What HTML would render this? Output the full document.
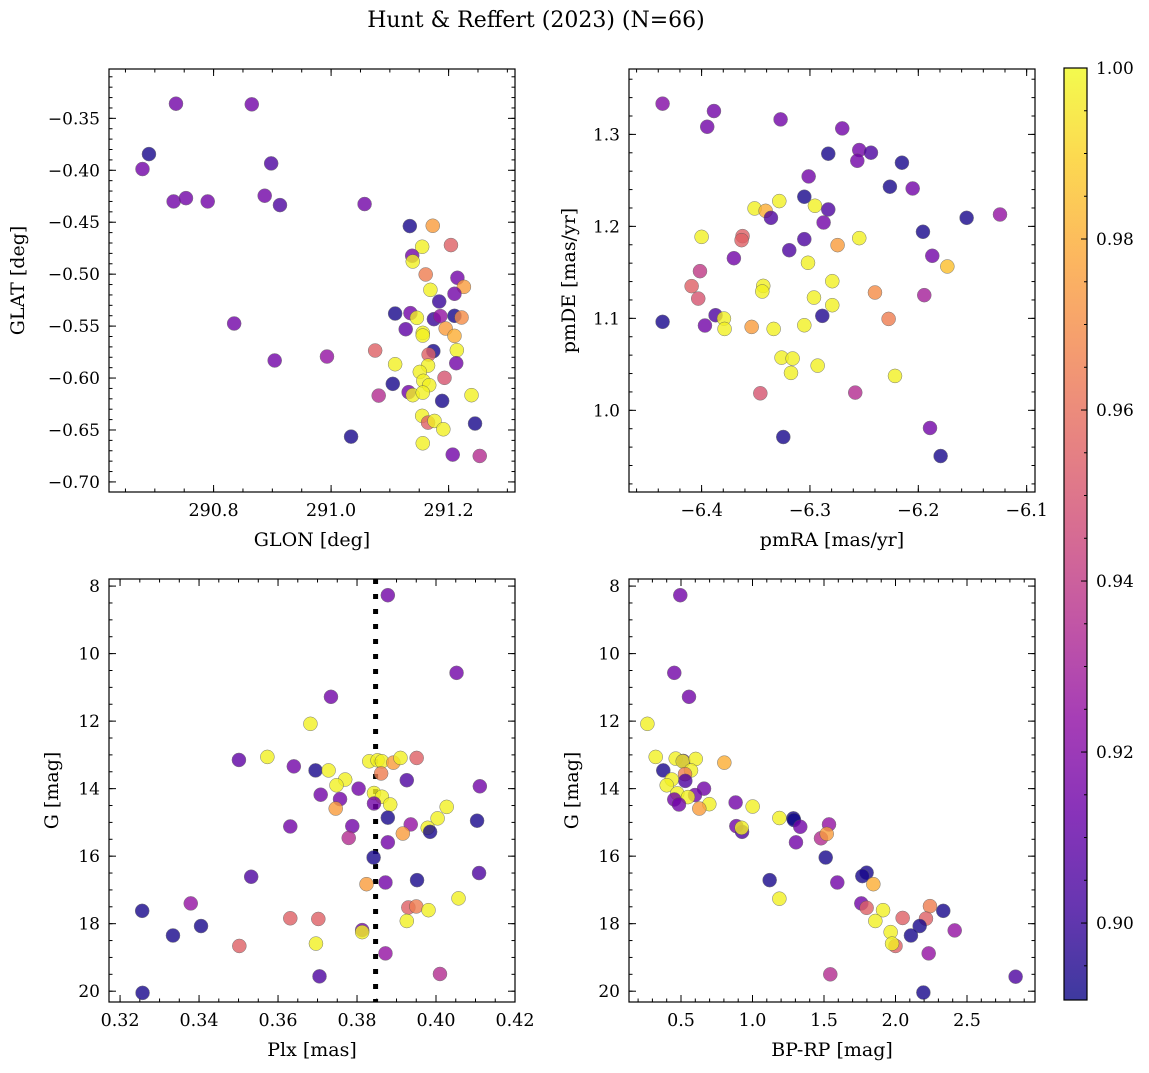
<!DOCTYPE html>
<html><head><meta charset="utf-8"><style>
html,body{margin:0;padding:0;background:#fff;}
svg text{font-family:"DejaVu Serif","Liberation Serif",serif;fill:#000;}
</style></head><body>
<svg id="fig" width="1149" height="1068" viewBox="0 0 1149 1068" xmlns="http://www.w3.org/2000/svg">
<text x="536" y="27" font-size="22" text-anchor="middle">Hunt &amp; Reffert (2023) (N=66)</text>
</svg>
<script>
// Panel 1: GLON vs GLAT
const p1Glon=[290.736,290.865,290.690,290.679,290.898,290.732,290.753,290.790,290.887,290.913,291.057,290.835,290.904,290.993,291.034,291.134,291.173,291.155,291.204,291.138,291.139,291.161,291.215,291.226,291.169,291.210,291.184,291.109,291.135,291.146,291.175,291.186,291.210,291.222,291.127,291.195,291.156,291.156,291.210,291.075,291.174,291.166,291.214,291.213,291.109,291.165,291.151,291.193,291.157,291.167,291.105,291.132,291.139,291.156,291.081,291.189,291.239,291.155,291.165,291.176,291.191,291.245,291.156,291.207,291.253];
const p1Glat=[-0.3359,-0.3365,-0.3844,-0.3988,-0.3934,-0.430,-0.4268,-0.430,-0.4245,-0.4335,-0.4325,-0.5475,-0.5831,-0.5793,-0.6564,-0.4537,-0.4534,-0.4736,-0.4720,-0.4823,-0.4878,-0.5003,-0.5035,-0.5122,-0.5151,-0.5189,-0.5263,-0.5379,-0.5375,-0.5420,-0.5433,-0.5404,-0.5401,-0.5417,-0.5530,-0.5523,-0.5565,-0.5591,-0.5594,-0.5735,-0.5741,-0.5774,-0.5732,-0.5857,-0.5867,-0.5880,-0.5941,-0.5998,-0.6027,-0.6069,-0.6056,-0.6136,-0.6165,-0.6140,-0.6169,-0.6220,-0.6165,-0.6364,-0.6429,-0.6413,-0.6493,-0.6438,-0.6628,-0.6737,-0.6750];
const p1Prob=[0.915,0.915,0.893,0.915,0.905,0.915,0.915,0.915,0.915,0.905,0.915,0.915,0.915,0.925,0.893,0.893,0.975,0.998,0.955,0.915,0.998,0.965,0.915,0.975,0.998,0.915,0.900,0.893,0.915,0.998,0.900,0.925,0.893,0.970,0.910,0.975,0.998,0.998,0.980,0.955,0.893,0.955,0.998,0.915,0.998,0.998,0.998,0.950,0.998,0.998,0.893,0.915,0.998,0.998,0.935,0.893,0.998,0.998,0.955,0.998,0.998,0.893,0.998,0.915,0.935];
// Panel 2: pmRA vs pmDE
const p2Pmra=[-6.436,-6.3886,-6.3948,-6.3271,-6.2702,-6.2831,-6.2545,-6.2437,-6.2563,-6.2151,-6.3012,-6.2262,-6.2052,-6.3052,-6.3283,-6.2954,-6.3511,-6.3409,-6.2831,-6.3360,-6.2874,-6.1554,-6.1246,-6.1957,-6.4000,-6.3622,-6.3631,-6.3052,-6.2545,-6.2745,-6.3191,-6.3702,-6.1871,-6.3018,-6.1732,-6.4015,-6.2794,-6.4092,-6.3431,-6.3440,-6.2400,-6.4031,-6.2963,-6.1945,-6.2794,-6.3871,-6.3794,-6.2886,-6.4360,-6.3969,-6.3788,-6.3538,-6.3335,-6.3052,-6.2274,-6.3262,-6.3160,-6.2929,-6.3175,-6.2215,-6.3458,-6.2582,-6.1892,-6.3246,-6.1794];
const p2Pmde=[1.3334,1.3254,1.3083,1.3163,1.3065,1.2790,1.2830,1.2801,1.2713,1.2692,1.2543,1.2431,1.2412,1.2322,1.2275,1.2224,1.2195,1.2169,1.2184,1.2093,1.2042,1.2093,1.2129,1.1941,1.1886,1.1894,1.1850,1.1861,1.1872,1.1796,1.1741,1.1654,1.1680,1.1604,1.1564,1.1513,1.1404,1.1350,1.1353,1.1292,1.1281,1.1215,1.1226,1.1252,1.1143,1.1034,1.0998,1.1027,1.0962,1.0922,1.0885,1.0907,1.0885,1.0925,1.0994,1.0573,1.0563,1.0486,1.0407,1.0374,1.0185,1.0193,0.9808,0.9710,0.9503];
const p2Prob=[0.92,0.915,0.915,0.915,0.915,0.893,0.915,0.905,0.915,0.893,0.915,0.893,0.915,0.893,0.998,0.998,0.998,0.980,0.905,0.905,0.915,0.893,0.925,0.893,0.998,0.955,0.955,0.905,0.998,0.975,0.905,0.915,0.915,0.998,0.985,0.94,0.998,0.955,0.998,0.998,0.97,0.95,0.998,0.93,0.998,0.905,0.998,0.895,0.893,0.915,0.998,0.975,0.998,0.998,0.965,0.998,0.998,0.998,0.998,0.998,0.95,0.935,0.915,0.893,0.893];
// Panel 3: Plx vs G
const p3Plx=[0.3878,0.4052,0.3734,0.3682,0.3501,0.3573,0.3640,0.3695,0.3728,0.3770,0.3748,0.3804,0.3708,0.3757,0.3746,0.3831,0.3852,0.3863,0.3892,0.3910,0.3951,0.3861,0.3926,0.4111,0.3843,0.3863,0.3884,0.3843,0.3878,0.4027,0.4004,0.3979,0.3985,0.3936,0.3916,0.3878,0.4104,0.3631,0.3788,0.3779,0.3842,0.3532,0.4109,0.3824,0.3872,0.3952,0.4057,0.3930,0.3950,0.3981,0.3926,0.3379,0.3256,0.3631,0.3702,0.3405,0.3334,0.3813,0.3813,0.3502,0.3696,0.3872,0.4010,0.3705,0.3257];
const p3G=[8.27,10.57,11.28,12.08,13.15,13.06,13.34,13.46,13.46,13.73,13.90,14.00,14.18,14.31,14.59,13.19,13.16,13.19,13.23,13.09,13.09,13.55,13.75,13.93,14.13,14.24,14.47,14.44,14.86,14.54,14.88,15.16,15.28,15.06,15.33,15.59,14.95,15.12,15.11,15.46,16.04,16.61,16.50,16.83,16.78,16.71,17.25,17.52,17.49,17.60,17.92,17.40,17.62,17.84,17.86,18.07,18.35,18.19,18.25,18.66,18.59,18.88,19.49,19.56,20.05];
const p3Prob=[0.915,0.915,0.915,0.998,0.91,0.998,0.915,0.893,0.998,0.998,0.998,0.915,0.915,0.915,0.975,0.998,0.998,0.998,0.975,0.998,0.955,0.965,0.905,0.915,0.998,0.998,0.998,0.915,0.893,0.998,0.998,0.998,0.893,0.925,0.975,0.915,0.893,0.915,0.915,0.935,0.893,0.905,0.905,0.975,0.915,0.893,0.998,0.955,0.965,0.998,0.998,0.925,0.893,0.955,0.955,0.893,0.893,0.915,0.998,0.955,0.998,0.925,0.935,0.905,0.893];
// Panel 4: BP-RP vs G
const p4Bprp=[0.495,0.453,0.556,0.265,0.323,0.463,0.516,0.512,0.603,0.803,0.376,0.570,0.528,0.530,0.435,0.400,0.661,0.598,0.474,0.549,0.453,0.486,0.698,0.628,0.882,1.001,0.887,0.927,0.924,1.188,1.286,1.290,1.334,1.304,1.535,1.479,1.519,1.512,1.120,1.188,1.593,1.798,1.768,1.845,1.761,1.798,1.913,1.859,2.050,2.241,2.213,2.334,2.169,2.108,1.966,2.414,2.000,1.976,2.232,1.544,2.840,2.195];
const p4G=[8.27,10.57,11.28,12.08,13.06,13.11,13.18,13.19,13.12,13.23,13.46,13.46,13.57,13.77,13.73,13.90,14.00,14.19,14.14,14.25,14.32,14.47,14.46,14.59,14.41,14.53,15.11,15.28,15.16,14.87,14.88,14.93,15.13,15.59,15.06,15.47,15.34,16.04,16.71,17.26,16.78,16.49,16.59,16.83,17.40,17.53,17.60,17.92,17.83,17.48,17.85,17.62,18.07,18.35,18.25,18.20,18.66,18.59,18.88,19.50,19.57,20.04];
const p4Prob=[0.915,0.915,0.915,0.998,0.998,0.998,0.905,0.998,0.998,0.98,0.893,0.998,0.965,0.905,0.998,0.998,0.915,0.915,0.998,0.998,0.915,0.915,0.998,0.975,0.915,0.998,0.915,0.905,0.998,0.998,0.893,0.89,0.915,0.915,0.925,0.935,0.975,0.893,0.893,0.998,0.915,0.893,0.893,0.98,0.915,0.955,0.998,0.998,0.955,0.965,0.955,0.893,0.893,0.893,0.998,0.925,0.955,0.998,0.925,0.935,0.905,0.893];
// Colorbar
const cbTicks=[0.90,0.92,0.94,0.96,0.98,1.00];
const cbMin=0.891, cbMax=1.0;

const NS="http://www.w3.org/2000/svg";
const fig=document.getElementById('fig');
function mk(tag,attrs,parent){const e=document.createElementNS(NS,tag);for(const k in attrs)e.setAttribute(k,attrs[k]);(parent||fig).appendChild(e);return e;}
const stops=[[13,8,135],[65,4,157],[106,0,168],[143,13,164],[177,42,144],[204,71,120],[225,100,98],[242,132,75],[252,166,54],[252,206,37],[240,249,33]];
function plasma(t){t=Math.max(0,Math.min(1,t));const s=t*10,i=Math.min(9,Math.floor(s)),f=s-i;const a=stops[i],b=stops[i+1];return `rgb(${Math.round(a[0]+(b[0]-a[0])*f)},${Math.round(a[1]+(b[1]-a[1])*f)},${Math.round(a[2]+(b[2]-a[2])*f)})`;}
function colorOf(p){return plasma((p-cbMin)/(cbMax-cbMin));}
function fmt(v,d){const s=Math.abs(v).toFixed(d);return (v<-1e-9?'\u2212':'')+s;}

function panel(cfg){
  const {name,x0,x1,y0,y1,xmin,xmax,ymin,ymax,invertY,xs,ys,ps,xMaj,xMin,yMaj,yMin,xd,yd,xlabel,ylabel,ylabX}=cfg;
  const g=mk('g',{});
  
  
  const sx=v=>x0+(v-xmin)/(xmax-xmin)*(x1-x0);
  const sy=v=>invertY? y0+(v-ymin)/(ymax-ymin)*(y1-y0) : y1-(v-ymin)/(ymax-ymin)*(y1-y0);
  const ticks=mk('g',{stroke:'#000','stroke-width':1},g);
  
  
  const eps=1e-9;
  function tickLoop(min,max,step,fn){const start=Math.ceil((min-eps)/step);for(let k=start;k*step<=max+eps;k++)fn(k*step);}
  tickLoop(xmin,xmax,xMin,v=>{const X=sx(v);mk('line',{x1:X,x2:X,y1:y1,y2:y1-3.5},ticks);mk('line',{x1:X,x2:X,y1:y0,y2:y0+3.5},ticks);});
  tickLoop(ymin,ymax,yMin,v=>{const Y=sy(v);mk('line',{x1:x0,x2:x0+3.5,y1:Y,y2:Y},ticks);mk('line',{x1:x1,x2:x1-3.5,y1:Y,y2:Y},ticks);});
  xMaj.forEach(v=>{const X=sx(v);mk('line',{x1:X,x2:X,y1:y1,y2:y1-7},ticks);mk('line',{x1:X,x2:X,y1:y0,y2:y0+7},ticks);
    const t=mk('text',{x:X,y:y1+24,'font-size':17.5,'text-anchor':'middle'},g);t.textContent=fmt(v,xd);
    
    });
  yMaj.forEach(v=>{const Y=sy(v);mk('line',{x1:x0,x2:x0+7,y1:Y,y2:Y},ticks);mk('line',{x1:x1,x2:x1-7,y1:Y,y2:Y},ticks);
    const t=mk('text',{x:x0-9,y:Y+6,'font-size':17,'text-anchor':'end'},g);t.textContent=fmt(v,yd);
    
    });
  if(cfg.vline!==undefined){const X=sx(cfg.vline);const l=mk('line',{x1:X,x2:X,y1:y0,y2:y1,stroke:'#000','stroke-width':5,'stroke-dasharray':'5 10'},g);
    
    }
  const pts=mk('g',{},g);
  
  
  for(let i=0;i<xs.length;i++){
    const c=mk('circle',{cx:sx(xs[i]),cy:sy(ys[i]),r:7,fill:colorOf(ps[i]),stroke:'#555','stroke-width':0.5,opacity:0.8},pts);
    
    
  }
  const box=mk('rect',{x:x0,y:y0,width:x1-x0,height:y1-y0,fill:'none',stroke:'#000','stroke-width':1.2},g);
  
  
  const xl=mk('text',{x:(x0+x1)/2,y:y1+54,'font-size':19,'text-anchor':'middle'},g);xl.textContent=xlabel;
  
  
  const yc=(y0+y1)/2;
  const yl=mk('text',{x:ylabX,y:yc,'font-size':19,'text-anchor':'middle',transform:`rotate(-90 ${ylabX} ${yc})`},g);yl.textContent=ylabel;
  
  
}

panel({name:'glon-glat-panel',x0:109,x1:515,y0:69,y1:492,xmin:290.622,xmax:291.313,ymin:-0.7097,ymax:-0.3025,invertY:false,
  xs:p1Glon,ys:p1Glat,ps:p1Prob,xMaj:[290.8,291.0,291.2],xMin:0.05,yMaj:[-0.35,-0.40,-0.45,-0.50,-0.55,-0.60,-0.65,-0.70],yMin:0.01,xd:1,yd:2,
  xlabel:'GLON [deg]',ylabel:'GLAT [deg]',ylabX:24});
panel({name:'pm-panel',x0:629,x1:1035,y0:69,y1:492,xmin:-6.467,xmax:-6.0923,ymin:0.9112,ymax:1.3711,invertY:false,
  xs:p2Pmra,ys:p2Pmde,ps:p2Prob,xMaj:[-6.4,-6.3,-6.2,-6.1],xMin:0.02,yMaj:[1.0,1.1,1.2,1.3],yMin:0.02,xd:1,yd:1,
  xlabel:'pmRA [mas/yr]',ylabel:'pmDE [mas/yr]',ylabX:575});
panel({name:'plx-g-panel',x0:109,x1:515,y0:579,y1:1002,xmin:0.3172,xmax:0.42,ymin:7.79,ymax:20.32,invertY:true,
  xs:p3Plx,ys:p3G,ps:p3Prob,xMaj:[0.32,0.34,0.36,0.38,0.40,0.42],xMin:0.005,yMaj:[8,10,12,14,16,18,20],yMin:0.5,xd:2,yd:0,
  xlabel:'Plx [mas]',ylabel:'G [mag]',ylabX:58,vline:0.3847});
panel({name:'cmd-panel',x0:629,x1:1035,y0:579,y1:1002,xmin:0.1364,xmax:2.9755,ymin:7.79,ymax:20.32,invertY:true,
  xs:p4Bprp,ys:p4G,ps:p4Prob,xMaj:[0.5,1.0,1.5,2.0,2.5],xMin:0.1,yMaj:[8,10,12,14,16,18,20],yMin:0.5,xd:1,yd:0,
  xlabel:'BP-RP [mag]',ylabel:'G [mag]',ylabX:578});

// colorbar
(function(){
  const cx0=1064,cx1=1087,cy0=68,cy1=1000;
  const g=mk('g',{});
  
  
  const defs=mk('defs',{},g);
  const lg=mk('linearGradient',{id:'cbg',x1:0,y1:1,x2:0,y2:0},defs);
  for(let i=0;i<=20;i++){mk('stop',{offset:(i/20),'stop-color':plasma(i/20)},lg);}
  const r=mk('rect',{x:cx0,y:cy0,width:cx1-cx0,height:cy1-cy0,fill:'url(#cbg)',opacity:0.8},g);
  
  
  const sy=v=>cy1-(v-cbMin)/(cbMax-cbMin)*(cy1-cy0);
  for(let k=Math.ceil(cbMin/0.005-1e-6);k*0.005<=cbMax+1e-9;k++){const Y=sy(k*0.005);mk('line',{x1:cx1,x2:cx1-3,y1:Y,y2:Y,stroke:'#000'},g);}
  cbTicks.forEach(v=>{const Y=sy(v);mk('line',{x1:cx1,x2:cx1-6,y1:Y,y2:Y,stroke:'#000'},g);
    const t=mk('text',{x:cx1+9,y:Y+6,'font-size':17},g);t.textContent=v.toFixed(2);
    
    });
  const b=mk('rect',{x:cx0,y:cy0,width:cx1-cx0,height:cy1-cy0,fill:'none',stroke:'#000','stroke-width':1.2},g);
  
  
})();
</script>
</body></html>
